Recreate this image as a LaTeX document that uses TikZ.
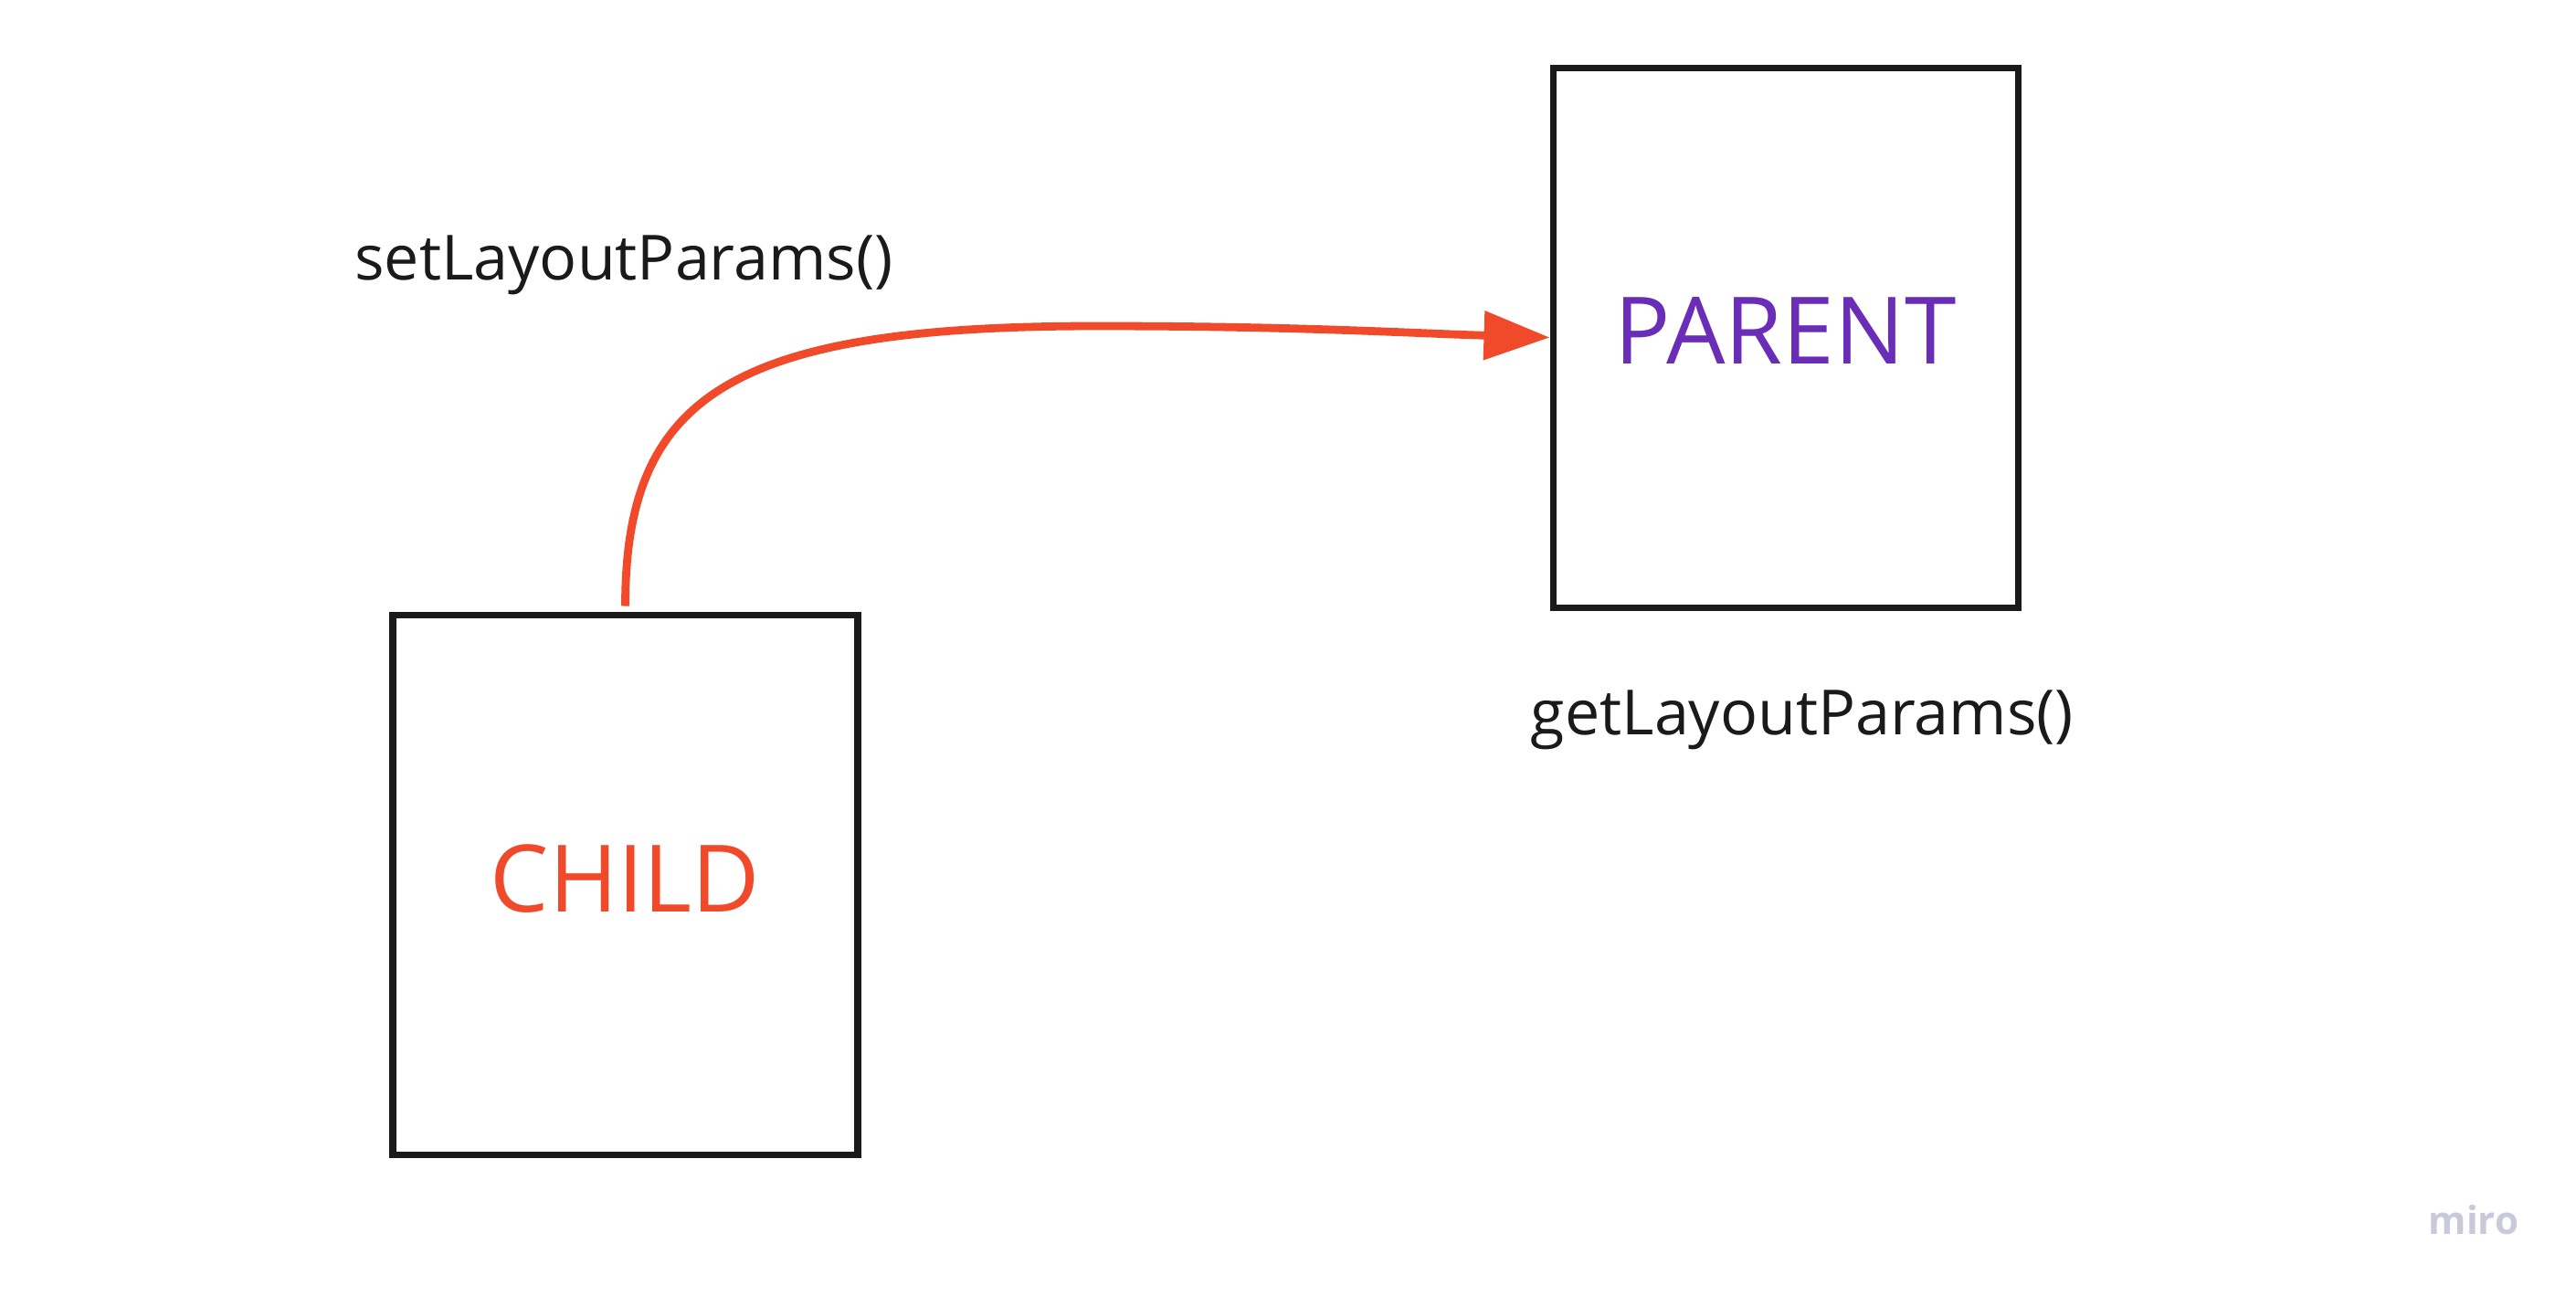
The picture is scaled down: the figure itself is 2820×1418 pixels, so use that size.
\documentclass[tikz,border=0pt]{standalone}
\usepackage{fontspec}
\setmainfont{Open Sans}
\usetikzlibrary{arrows.meta,calc}
\definecolor{ink}{HTML}{1A1A1A}
\definecolor{call}{HTML}{F04A2A}
\definecolor{parentc}{HTML}{6A2DB8}
\definecolor{brand}{HTML}{C9C9D9}

\begin{document}
\begin{tikzpicture}[x=0.1mm,y=-0.1mm,line cap=butt,line join=miter,
  box/.style={draw=ink,line width=2pt,minimum width=50.9mm,minimum height=59.1mm,inner sep=0pt},
  role/.style={font=\fontsize{29}{35}\selectfont},
  lbl/.style={font=\fontsize{19.4}{23}\selectfont,text=ink},
  calls/.style={-{Triangle[length=7.2mm,width=5.2mm]},line width=2.5pt,call}]
  \fill[white] (0,0) rectangle (2820,1418);

  % ---- the two views ----
  \node[box] (child) at (684.5,968.5) {};
  \node[role,text=call] (childtxt) at (684.5,962) {CHILD};
  \node[box] (parent) at (1954.5,369.5) {};
  \node[role,text=parentc] (parenttxt) at (1954.5,362) {PARENT};

  % ---- method labels ----
  \node[lbl] (setlp) at (683,290) {setLayoutParams()};
  \node[lbl] (getlp) at (1973,788) {getLayoutParams()};

  % ---- call from child up to parent ----
  \coordinate (crest) at (1200,357);
  \draw[calls] ($(child.north)+(0,-6)$) .. controls +(0,-230) and +(-400,0) .. (crest)
    .. controls +(220,0) and +(-160,-5) .. (parent.west);

  \node[font=\bfseries\fontsize{12}{14}\selectfont,text=brand] (miro) at (2708,1336) {miro};
\end{tikzpicture}
\end{document}
